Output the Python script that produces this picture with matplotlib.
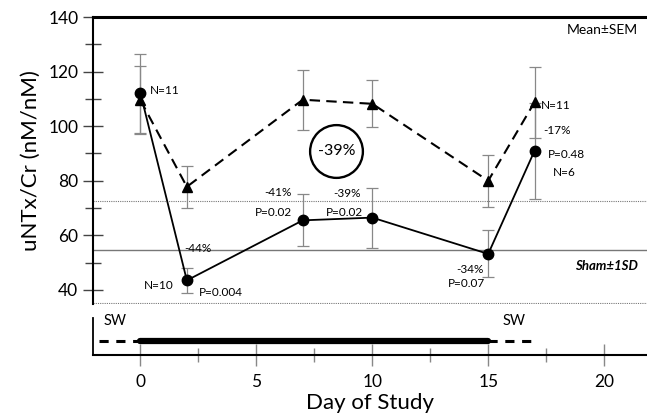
import matplotlib
matplotlib.use("Agg")
import matplotlib.pyplot as plt
from matplotlib.ticker import MultipleLocator

# values
days = [0, 2, 7, 10, 15, 17]
circle_mean = [112.0, 43.5, 65.5, 66.5, 53.2, 91.0]
circle_sem = [14.5, 4.7, 9.5, 11.0, 8.6, 17.5]
triangle_mean = [109.5, 77.8, 109.7, 108.2, 80.0, 108.8]
triangle_sem = [12.5, 7.7, 11.0, 8.6, 9.5, 13.0]

sham_mean = 54.6
sham_upper = 72.6
sham_lower = 35.2

sw_before = [-1.8, 0]
treatment = [0, 15]
sw_after = [15, 17]

x_ticks = [0, 5, 10, 15, 20]
y_ticks = [40, 60, 80, 100, 120, 140]

plt.rcParams["font.family"] = ["Lato", "DejaVu Sans"]

fig = plt.figure(figsize=(6.47, 4.2), dpi=100)
ax = fig.add_axes([0.1437, 0.2762, 0.8563, 0.6833])
ax2 = fig.add_axes([0.1437, 0.155, 0.8563, 0.088])

XLIM = (-2.05, 21.85)

# sham reference band
ax.axhline(sham_mean, color="#777777", lw=1.0, zorder=1)
ax.axhline(sham_upper, color="#777777", lw=0.8, ls=(0, (1, 1)), zorder=1)
ax.axhline(sham_lower, color="#777777", lw=0.8, ls=(0, (1, 1)), zorder=1)

# error bars
ax.errorbar(days, triangle_mean, yerr=triangle_sem, fmt="none", ecolor="#888888",
            elinewidth=0.9, capsize=4, capthick=0.9, zorder=2)
ax.errorbar(days, circle_mean, yerr=circle_sem, fmt="none", ecolor="#888888",
            elinewidth=0.9, capsize=4, capthick=0.9, zorder=2)

ax.plot(days, triangle_mean, color="black", lw=1.5, ls=(0, (5, 3)),
        marker="^", markersize=7, zorder=3)
ax.plot(days, circle_mean, color="black", lw=1.3, ls="-",
        marker="o", markersize=7.5, zorder=4)

fs = 8.5
ax.text(0.42, 113, "N=11", fontsize=fs, va="center", ha="left")
ax.text(1.45, 41.5, "N=10", fontsize=fs, va="center", ha="right")
ax.text(2.5, 39, "P=0.004", fontsize=fs, va="center", ha="left")
ax.text(2.47, 55.3, "-44%", fontsize=fs, va="center", ha="center")
ax.text(6.52, 75.6, "-41%", fontsize=fs, va="center", ha="right")
ax.text(6.52, 68.2, "P=0.02", fontsize=fs, va="center", ha="right")
ax.text(8.92, 75.3, "-39%", fontsize=fs, va="center", ha="center")
ax.text(8.8, 68.2, "P=0.02", fontsize=fs, va="center", ha="center")
ax.text(14.2, 47.6, "-34%", fontsize=fs, va="center", ha="center")
ax.text(14.06, 42.2, "P=0.07", fontsize=fs, va="center", ha="center")
ax.text(17.26, 107.7, "N=11", fontsize=fs, va="center", ha="left")
ax.text(17.37, 98.3, "-17%", fontsize=fs, va="center", ha="left")
ax.text(17.59, 89.7, "P=0.48", fontsize=fs, va="center", ha="left")
ax.text(18.27, 83.2, "N=6", fontsize=fs, va="center", ha="center")
ax.text(21.46, 135.3, "Mean\u00b1SEM", fontsize=10, va="center", ha="right")
ax.text(21.46, 48.8, "Sham\u00b11SD", fontsize=9.5, va="center", ha="right",
        fontweight="bold", fontstyle="italic")

# circled overall change
ax.plot([8.45], [90.9], marker="o", markersize=38, mfc="none", mec="black",
        mew=1.7, zorder=5)
ax.text(8.45, 90.9, "-39%", fontsize=11.5, va="center", ha="center")

ax.set_xlim(*XLIM)
ax.set_ylim(34.85, 140)
ax.set_yticks(y_ticks)
ax.yaxis.set_minor_locator(MultipleLocator(10))
ax.tick_params(axis="y", which="major", direction="inout", length=14, width=1,
               color="#444444", labelsize=12.5)
ax.tick_params(axis="y", which="minor", direction="inout", length=12, width=1,
               color="#444444")
ax.set_xticks([])
for side in ["bottom", "right"]:
    ax.spines[side].set_visible(False)
ax.spines["left"].set_linewidth(1.5)
ax.spines["top"].set_linewidth(2.2)
ax.set_ylabel("uNTx/Cr (nM/nM)", fontsize=16, labelpad=5)

# treatment timeline strip
ax2.plot(sw_before, [0.4, 0.4], color="black", lw=2.2, ls=(0, (3, 2.5)))
ax2.plot(sw_after, [0.4, 0.4], color="black", lw=2.2, ls=(0, (3, 2.5)))
ax2.plot(treatment, [0.4, 0.4], color="black", lw=4.5, solid_capstyle="round")
ax2.text(-1.6, 0.95, "SW", fontsize=10.5, va="center", ha="left")
ax2.text(15.6, 0.95, "SW", fontsize=10.5, va="center", ha="left")
ax2.set_xlim(*XLIM)
ax2.set_ylim(0, 1.05)
ax2.set_yticks([])
ax2.set_xticks(x_ticks)
ax2.xaxis.set_minor_locator(MultipleLocator(2.5))
ax2.tick_params(axis="x", which="major", direction="inout", length=16, width=1,
                color="#888888", labelsize=12.5, pad=6)
ax2.tick_params(axis="x", which="minor", direction="inout", length=10, width=1,
                color="#888888")
for side in ["top", "right"]:
    ax2.spines[side].set_visible(False)
ax2.spines["left"].set_linewidth(1.3)
ax2.spines["bottom"].set_linewidth(1.5)
ax2.set_xlabel("Day of Study", fontsize=16, labelpad=2)

fig.savefig("out.png", dpi=100)
